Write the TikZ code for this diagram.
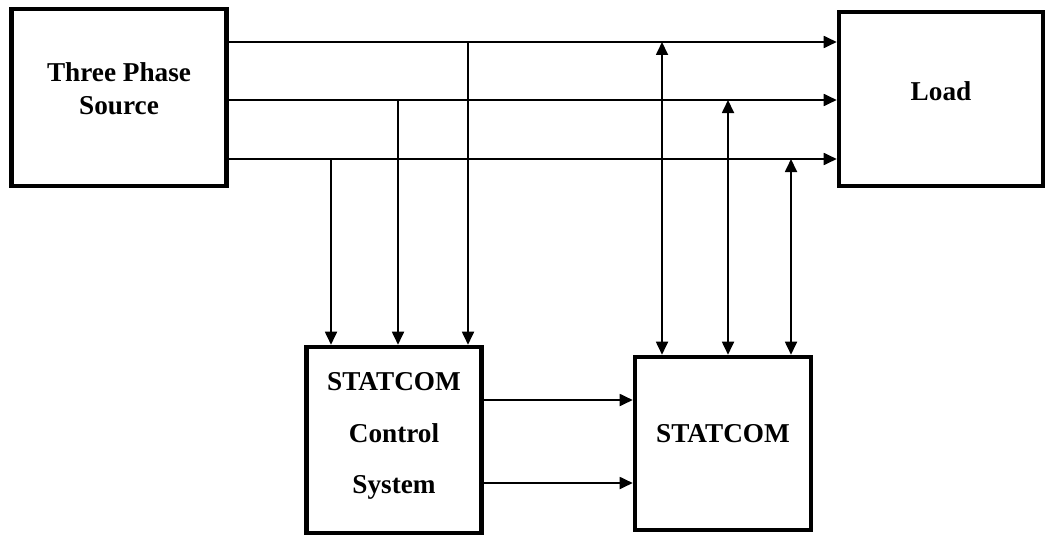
\documentclass[tikz,border=0pt]{standalone}
\usepackage{fontspec}
\setmainfont{Liberation Serif}
\usetikzlibrary{positioning, calc, arrows.meta}

\tikzset{
  blockbox/.style={draw, line width=2.6pt, fill=white},
  blocktext/.style={align=center, font=\fontsize{15.5}{19}\selectfont\bfseries},
  wire/.style={line width=1pt, -{Triangle[length=0.26cm, width=0.24cm]}},
  biwire/.style={line width=1pt, {Triangle[length=0.26cm, width=0.24cm]}-{Triangle[length=0.26cm, width=0.24cm]}}
}

\begin{document}
\begin{tikzpicture}
  \useasboundingbox (0,0) rectangle (20.94,-10.74);
  % blocks
  \node[blockbox, minimum width=4.3cm, minimum height=3.54cm] (src) at (2.38,-1.95) {};
  \node[blockbox, minimum width=4.08cm, minimum height=3.48cm] (load) at (18.82,-1.98) {};
  \node[blockbox, minimum width=3.5cm, minimum height=3.72cm] (ctrl) at (7.88,-8.8) {};
  \node[blockbox, minimum width=3.52cm, minimum height=3.46cm] (stat) at (14.46,-8.87) {};
  \node[blocktext] (srctxt) at ([yshift=0.18cm]src.center) {Three Phase\\Source};
  \node[blocktext] (loadtxt) at ([yshift=0.16cm]load.center) {Load};
  \node[blocktext, font=\fontsize{15.5}{29.5}\selectfont\bfseries] (ctrltxt)
    at ([yshift=0.08cm]ctrl.center) {STATCOM\\Control\\System};
  \node[blocktext] (stattxt) at ([yshift=0.2cm]stat.center) {STATCOM};

  % three phase lines
  \coordinate (p1) at (src.east |- 0,-0.84);
  \coordinate (p2) at (src.east |- 0,-2.0);
  \coordinate (p3) at (src.east |- 0,-3.18);
  \foreach \p in {p1,p2,p3}
    \draw[wire] (\p) -- (\p -| load.west);

  % measurements to control
  \coordinate (m1) at (9.36,-0.84);
  \coordinate (m2) at (7.96,-2.0);
  \coordinate (m3) at (6.62,-3.18);
  \foreach \m in {m1,m2,m3}
    \draw[wire] (\m) -- (\m |- ctrl.north);

  % statcom connections
  \coordinate (s1) at (13.24,-0.84);
  \coordinate (s2) at (14.56,-2.0);
  \coordinate (s3) at (15.82,-3.18);
  \foreach \s in {s1,s2,s3}
    \draw[biwire] (\s) -- (\s |- stat.north);

  % gate signals
  \coordinate (g1) at (ctrl.east |- 0,-8.0);
  \coordinate (g2) at (ctrl.east |- 0,-9.66);
  \foreach \g in {g1,g2}
    \draw[wire] (\g) -- (\g -| stat.west);
\end{tikzpicture}
\end{document}
